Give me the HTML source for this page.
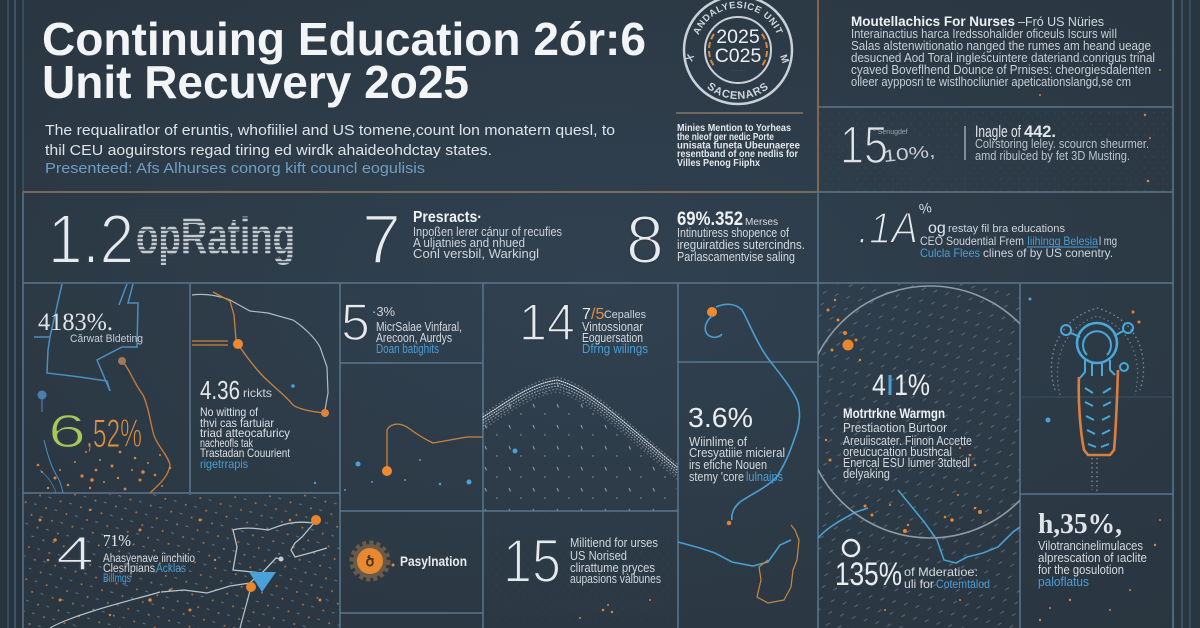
<!DOCTYPE html>
<html><head><meta charset="utf-8"><style>
html,body{margin:0;padding:0;background:#2d3b48;overflow:hidden;width:1200px;height:628px}
svg{display:block}
text{font-family:"Liberation Sans",sans-serif}
.sf{font-family:"Liberation Serif",serif}
</style></head><body>
<svg xmlns="http://www.w3.org/2000/svg" width="1200" height="628" viewBox="0 0 1200 628">
<defs>
<radialGradient id="bg" cx="50%" cy="45%" r="75%">
<stop offset="0" stop-color="#314150"/><stop offset="1" stop-color="#29353f"/>
</radialGradient>
<pattern id="pBL" width="16" height="14" patternUnits="userSpaceOnUse" patternTransform="rotate(-25)">
<circle cx="3" cy="4" r="1" fill="#b9753a"/><line x1="10" y1="9" x2="12" y2="11" stroke="#6b7b88" stroke-width="1"/>
</pattern>
<pattern id="pDiag" width="12" height="12" patternUnits="userSpaceOnUse" patternTransform="rotate(12)">
<line x1="2" y1="8" x2="5" y2="5" stroke="#5f7181" stroke-width="1"/>
</pattern>
<pattern id="pSparse" width="24" height="21" patternUnits="userSpaceOnUse">
<line x1="5" y1="5" x2="6.5" y2="8.5" stroke="#8d9eab" stroke-width="1"/>
<circle cx="17" cy="15" r=".7" fill="#8d9eab"/>
</pattern>
<pattern id="pNoise" width="9" height="11" patternUnits="userSpaceOnUse">
<circle cx="2" cy="3" r=".6" fill="#3f4f5d"/><circle cx="6" cy="8" r=".5" fill="#3c4b58"/>
</pattern>
<clipPath id="cBL"><rect x="24" y="494" width="316" height="134"/></clipPath>
<clipPath id="cCirc"><rect x="818" y="284" width="202" height="344"/></clipPath>
<clipPath id="cHill"><path d="M483,421 C510,404 530,388 557,384 C590,392 630,432 677,471 L677,511 L483,511 Z"/></clipPath>
<path id="arcTop" d="M696,50 A42,42 0 0 1 780,50"/>
<path id="arcBot" d="M689,50 A49,49 0 0 0 787,50"/>
</defs>

<rect width="1200" height="628" fill="url(#bg)"/>
<rect x="0" y="0" width="23" height="628" fill="#27333e"/>
<rect x="1173" y="0" width="27" height="628" fill="#29353f"/>

<!-- textures -->
<rect x="819" y="108" width="353" height="84" fill="url(#pNoise)"/>
<rect x="24" y="494" width="316" height="134" fill="url(#pBL)" opacity=".9"/>
<g clip-path="url(#cCirc)"><rect x="818" y="284" width="202" height="344" fill="url(#pDiag)" opacity=".85"/></g>
<g clip-path="url(#cHill)"><rect x="483" y="380" width="195" height="132" fill="url(#pSparse)"/></g>
<rect x="483" y="512" width="195" height="116" fill="url(#pNoise)" opacity=".6"/>

<!-- grid lines -->
<g stroke="#58768e" stroke-width="1.5" fill="none">
<line x1="8" y1="0" x2="8" y2="628" stroke="#3f5466"/>
<line x1="15" y1="0" x2="15" y2="628" stroke="#465d70"/>
<line x1="23" y1="0" x2="23" y2="192" stroke="#3f5466"/>
<line x1="23" y1="192" x2="23" y2="628"/>
<line x1="1173" y1="0" x2="1173" y2="628"/>
<line x1="1182" y1="0" x2="1182" y2="628" stroke="#465d70"/>
<line x1="1190" y1="0" x2="1190" y2="628" stroke="#3f5466"/>
<line x1="818" y1="107" x2="1173" y2="107"/>
<line x1="818" y1="192" x2="1173" y2="192"/>
<line x1="23" y1="283" x2="1173" y2="283"/>
<line x1="190" y1="283" x2="190" y2="493"/>
<line x1="340" y1="283" x2="340" y2="628"/>
<line x1="483" y1="283" x2="483" y2="628"/>
<line x1="678" y1="283" x2="678" y2="628"/>
<line x1="818" y1="192" x2="818" y2="628"/>
<line x1="1020" y1="283" x2="1020" y2="628"/>
<line x1="340" y1="363" x2="483" y2="363"/>
<line x1="678" y1="362" x2="818" y2="362"/>
<line x1="23" y1="493" x2="340" y2="493"/>
<line x1="340" y1="511" x2="678" y2="511"/>
<line x1="340" y1="613" x2="483" y2="613"/>
<line x1="1020" y1="494" x2="1173" y2="494"/>
<line x1="1020" y1="397" x2="1173" y2="397" stroke="#3c5062" stroke-width="1"/>
</g>
<line x1="23" y1="192" x2="818" y2="192" stroke="#7a6a5b" stroke-width="2"/>
<line x1="818" y1="0" x2="818" y2="192" stroke="#8b6d50" stroke-width="1.8"/>
<line x1="676" y1="113" x2="803" y2="113" stroke="#8a7562" stroke-width="1.5"/>

<!-- TITLE -->
<text x="42" y="55" font-size="46" font-weight="bold" fill="#f2f4f5" textLength="604" lengthAdjust="spacingAndGlyphs">Continuing Education 2ór:6</text>
<text x="42" y="98" font-size="46" font-weight="bold" fill="#f2f4f5" textLength="427" lengthAdjust="spacingAndGlyphs">Unit Recuvery 2o25</text>
<text x="45" y="135" font-size="14.5" fill="#dde3e8" textLength="570" lengthAdjust="spacingAndGlyphs">The requaliratlor of eruntis, whofiiliel and US tomene,count lon monatern quesl, to</text>
<text x="45" y="155" font-size="14.5" fill="#dde3e8" textLength="447" lengthAdjust="spacingAndGlyphs">thil CEU aoguirstors regad tiring ed wirdk ahaideohdctay states.</text>
<text x="45" y="173" font-size="14.5" fill="#6f9ec2" textLength="380" lengthAdjust="spacingAndGlyphs">Presenteed:  Afs Alhurses conorg kift councl eogulisis</text>

<!-- BADGE -->
<circle cx="738" cy="50" r="54" fill="none" stroke="#c9d1d8" stroke-width="2.5"/>
<circle cx="738" cy="50" r="33" fill="none" stroke="#c9d1d8" stroke-width="2"/>
<path d="M714,34 A28,28 0 0 0 714,66" fill="none" stroke="#d9893a" stroke-width="2" stroke-dasharray="6 3"/>
<path d="M762,34 A28,28 0 0 1 762,66" fill="none" stroke="#d9893a" stroke-width="2" stroke-dasharray="6 3"/>
<text font-size="9.5" font-weight="bold" fill="#cfd6dc" letter-spacing=".6"><textPath href="#arcTop" startOffset="50%" text-anchor="middle">ANDALYESICE UNIT</textPath></text>
<text font-size="11" font-weight="bold" fill="#cfd6dc" letter-spacing=".8"><textPath href="#arcBot" startOffset="50%" text-anchor="middle">SACENARS</textPath></text>
<text x="692" y="62" font-size="10" font-weight="bold" fill="#cfd6dc" transform="rotate(-70 692 62)">X</text>
<text x="780" y="56" font-size="10" font-weight="bold" fill="#cfd6dc" transform="rotate(70 780 56)">M</text>
<text x="738" y="43" font-size="19.5" fill="#eceff1" text-anchor="middle">2025</text>
<text x="738" y="62" font-size="19.5" fill="#eceff1" text-anchor="middle">C025</text>
<text x="738" y="72" font-size="4" fill="#9aa6b0" text-anchor="middle">· · · · · ·</text>
<g font-size="10" font-weight="bold" fill="#e4e8eb">
<text x="677" y="131" textLength="114" lengthAdjust="spacingAndGlyphs">Minies Mention to Yorheas</text>
<text x="677" y="140" textLength="97" lengthAdjust="spacingAndGlyphs">the nleof ger nedic Porte</text>
<text x="677" y="148.5" textLength="123" lengthAdjust="spacingAndGlyphs">unisata funeta Ubeunaeree</text>
<text x="677" y="157" textLength="121" lengthAdjust="spacingAndGlyphs">resentband of one nedlis for</text>
<text x="677" y="166" textLength="83" lengthAdjust="spacingAndGlyphs">Villes Penog Fiiphx</text>
</g>

<!-- HEADER RIGHT -->
<text x="851" y="26" font-size="13.5" font-weight="bold" fill="#eef1f3" textLength="164" lengthAdjust="spacingAndGlyphs">Moutellachics For Nurses</text>
<text x="1018" y="26" font-size="13" fill="#d3dae0" textLength="86" lengthAdjust="spacingAndGlyphs">–Fró US Nüries</text>
<g font-size="12.5" fill="#c7cfd6">
<text x="851" y="38" textLength="266" lengthAdjust="spacingAndGlyphs">Interainactius harca Iredssohalider oficeuls Iscurs wiIl</text>
<text x="851" y="50" textLength="300" lengthAdjust="spacingAndGlyphs">Salas alstenwitionatio nanged the rumes am heand ueage</text>
<text x="851" y="62" textLength="304" lengthAdjust="spacingAndGlyphs">desucned Aod Toral ingleścuintere dateriand.conrigus trinal</text>
<text x="851" y="74" textLength="300" lengthAdjust="spacingAndGlyphs">cyaved Boveflhend Dounce of Prnises: cheorgiesdalenten</text>
<text x="851" y="86" textLength="280" lengthAdjust="spacingAndGlyphs">olleer aypposri te wistlhocliunier apeticationslangd,se cm</text>
</g>
<text x="840" y="163" font-size="53" fill="#dde2e6" stroke="#2e3c49" stroke-width="1.6" textLength="48" lengthAdjust="spacingAndGlyphs">15</text>
<text x="873" y="134" font-size="7" fill="#9aa6b0">° Senugdef</text>
<text x="884" y="162" font-size="17" fill="#c9d0d6" transform="rotate(-6 884 162)" textLength="52" lengthAdjust="spacingAndGlyphs">10%,</text>
<line x1="965" y1="126" x2="965" y2="160" stroke="#9aa5ae" stroke-width="1.5"/>
<text x="975" y="137" font-size="17" fill="#e3e7ea" textLength="46" lengthAdjust="spacingAndGlyphs">Inagle of</text>
<text x="1024" y="137" font-size="17" font-weight="bold" fill="#e3e7ea" textLength="32" lengthAdjust="spacingAndGlyphs">442.</text>
<text x="975" y="148" font-size="13" fill="#b9c3cb" textLength="174" lengthAdjust="spacingAndGlyphs">Colrstoring leley. scourcn sheurmer.</text>
<text x="975" y="160" font-size="13" fill="#b9c3cb" textLength="155" lengthAdjust="spacingAndGlyphs">amd ribulced by fet 3D Musting.</text>

<!-- ROW 2 -->
<text x="48" y="263" font-size="70" fill="#e6eaed" stroke="#2e3c49" stroke-width="2" textLength="86" lengthAdjust="spacingAndGlyphs">1.2</text>
<text x="136" y="254" font-size="52" font-weight="bold" fill="#dfe4e8" textLength="159" lengthAdjust="spacingAndGlyphs" opacity=".85">opRating</text>
<g stroke="#2e3c49" stroke-width="1.6">
<line x1="134" y1="210" x2="298" y2="210"/><line x1="134" y1="214" x2="298" y2="214"/><line x1="134" y1="218" x2="298" y2="218"/><line x1="134" y1="222" x2="298" y2="222"/><line x1="134" y1="226" x2="298" y2="226"/><line x1="134" y1="230" x2="298" y2="230"/><line x1="134" y1="234" x2="298" y2="234"/><line x1="134" y1="238" x2="298" y2="238"/><line x1="134" y1="242" x2="298" y2="242"/><line x1="134" y1="246" x2="298" y2="246"/><line x1="134" y1="250" x2="298" y2="250"/><line x1="134" y1="254" x2="298" y2="254"/><line x1="134" y1="258" x2="298" y2="258"/><line x1="134" y1="262" x2="298" y2="262"/>
</g>
<text x="362" y="263" font-size="70" fill="#e6eaed" stroke="#2e3c49" stroke-width="2">7</text>
<text x="413" y="222" font-size="16" font-weight="bold" fill="#eef1f3" textLength="69" lengthAdjust="spacingAndGlyphs">Presracts·</text>
<g font-size="12.5" fill="#cdd4da">
<text x="413" y="236" textLength="149" lengthAdjust="spacingAndGlyphs">Inpoßen lerer cánur of recufies</text>
<text x="413" y="247" textLength="112" lengthAdjust="spacingAndGlyphs">A uljatnies and nhued</text>
<text x="413" y="258" textLength="126" lengthAdjust="spacingAndGlyphs">Conl versbil, Warkingl</text>
</g>
<text x="626" y="263" font-size="68" fill="#e6eaed" stroke="#2e3c49" stroke-width="2">8</text>
<text x="677" y="225" font-size="19" font-weight="bold" fill="#eef1f3" textLength="66" lengthAdjust="spacingAndGlyphs">69%.352</text>
<text x="745" y="225" font-size="10" fill="#d4dade" textLength="33" lengthAdjust="spacingAndGlyphs">Merses</text>
<g font-size="13" fill="#d4dade">
<text x="677" y="237" textLength="112" lengthAdjust="spacingAndGlyphs">Intinutiress shopence of</text>
<text x="677" y="249" textLength="128" lengthAdjust="spacingAndGlyphs">ireguiratdies sutercindns.</text>
<text x="677" y="261" textLength="118" lengthAdjust="spacingAndGlyphs">Parlascamentvise saling</text>
</g>
<text x="858" y="243" font-size="44" font-style="italic" fill="#e6eaed" stroke="#2e3c49" stroke-width="1.6" textLength="60" lengthAdjust="spacingAndGlyphs">.1A</text>
<text x="920" y="214" font-size="14" fill="#d4dade" transform="rotate(-10 920 214)">%</text>
<text x="928" y="233" font-size="16" fill="#e3e7ea">og</text>
<text x="948" y="232" font-size="11" fill="#cdd4da" textLength="117" lengthAdjust="spacingAndGlyphs">restay fil bra educations</text>
<text x="920" y="245" font-size="12" fill="#cdd4da" textLength="104" lengthAdjust="spacingAndGlyphs">CEO Soudential Frem</text>
<text x="1027" y="245" font-size="12" fill="#4a9ed6" textLength="71" lengthAdjust="spacingAndGlyphs">Iiihingg Belesia</text>
<line x1="1027" y1="247" x2="1098" y2="247" stroke="#4a9ed6" stroke-width="1"/>
<text x="1099" y="245" font-size="12" fill="#cdd4da" textLength="18" lengthAdjust="spacingAndGlyphs">l mg</text>
<text x="920" y="257" font-size="12" fill="#4a9ed6" textLength="60" lengthAdjust="spacingAndGlyphs">Culcla Flees</text>
<text x="983" y="257" font-size="12" fill="#cdd4da" textLength="130" lengthAdjust="spacingAndGlyphs">clines of by US conentry.</text>

<!-- PANEL 1 -->
<g fill="none" stroke="#4a8fc0" stroke-width="1.5">
<path d="M62,284 L50,337 L34,337 M50,337 L48,350 L47,373 L80,377 L107,381 L110,391"/>
<path d="M133,284 L128,303 L138,303 L137,347 L122,347 L97,360 L110,391"/>
<path d="M127,284 L119,305"/>
<line x1="42" y1="398" x2="42" y2="412" stroke-width="1"/>
<path d="M44,440 C48,455 50,465 58,478 C62,485 62,490 63,493" stroke-width="1"/>
<path d="M40,470 C45,475 52,480 56,493" stroke-width="1" opacity=".7"/>
</g>
<circle cx="42" cy="395" r="4.5" fill="#4a7fb0"/>
<path d="M123,362 C130,370 135,385 143,395 C148,405 150,420 153,432 C156,445 168,455 170,465 C168,478 158,485 150,493" fill="none" stroke="#c07a3a" stroke-width="1.4"/>
<circle cx="122" cy="361" r="4" fill="#a0785a"/>
<text class="sf" x="38" y="330" font-size="25" fill="#e0e5e9" textLength="75" lengthAdjust="spacingAndGlyphs">4183%.</text>
<text x="70" y="342" font-size="11" fill="#c5cdd3" textLength="73" lengthAdjust="spacingAndGlyphs">Cărwat Bldeting</text>
<text x="48" y="447" font-size="46" fill="#a9c855" stroke="#2e3c49" stroke-width="1.2" textLength="38" lengthAdjust="spacingAndGlyphs">6</text>
<text x="86" y="447" font-size="40" fill="#e5903a" stroke="#2e3c49" stroke-width="1" textLength="56" lengthAdjust="spacingAndGlyphs">,52%</text>
<g fill="#d9843a">
<circle cx="38" cy="465" r="1.3"/><circle cx="42" cy="472" r="1"/><circle cx="55" cy="478" r="1.5"/><circle cx="60" cy="470" r="1"/><circle cx="68" cy="485" r="1.3"/><circle cx="75" cy="462" r="1"/><circle cx="82" cy="476" r="1.6"/><circle cx="90" cy="488" r="1.2"/><circle cx="96" cy="470" r="1.4"/><circle cx="104" cy="482" r="1"/><circle cx="112" cy="466" r="1.5"/><circle cx="118" cy="478" r="1.2"/><circle cx="125" cy="489" r="1.4"/><circle cx="132" cy="470" r="1"/><circle cx="140" cy="480" r="1.5"/><circle cx="148" cy="463" r="1"/><circle cx="155" cy="475" r="1.3"/><circle cx="162" cy="486" r="1"/><circle cx="170" cy="468" r="1.2"/><circle cx="48" cy="488" r="1.2"/><circle cx="100" cy="460" r="1"/><circle cx="135" cy="458" r="1.3"/><circle cx="86" cy="452" r="1"/><circle cx="120" cy="452" r="1.4"/><circle cx="160" cy="455" r="1"/><circle cx="143" cy="472" r="1.8"/><circle cx="92" cy="480" r="1.8"/>
</g>

<!-- PANEL 2 -->
<path d="M192,295 C205,293 220,296 230,300 L250,311 L268,313 L293,320 C305,328 315,338 320,347 L327,367 L328,393 L325,410" fill="none" stroke="#b0bac3" stroke-width="1.2"/>
<g fill="none" stroke="#c8843e" stroke-width="1.3">
<path d="M192,341 L228,341 M192,345 L228,345"/>
<path d="M213,292 L230,301 L234,315 L236,340"/>
<path d="M238,344 C245,355 258,372 267,380 C275,388 285,395 293,405 C300,410 315,412 325,413"/>
</g>
<circle cx="238" cy="344" r="5" fill="#f0882f"/>
<circle cx="325" cy="413" r="4" fill="#e0803a"/>
<circle cx="293" cy="386" r="1.8" fill="#4aa0d8"/>
<circle cx="315" cy="483" r="1.2" fill="#4aa0d8"/>
<text x="200" y="399" font-size="26" fill="#e3e8eb" textLength="40" lengthAdjust="spacingAndGlyphs">4.36</text>
<text x="243" y="397" font-size="12" fill="#cdd4da" textLength="29" lengthAdjust="spacingAndGlyphs">rickts</text>
<g font-size="12" fill="#dbe1e5">
<text x="200" y="416" textLength="58" lengthAdjust="spacingAndGlyphs">No witting of</text>
<text x="200" y="427" textLength="74" lengthAdjust="spacingAndGlyphs">thvi cas fartuiar</text>
<text x="200" y="437" textLength="90" lengthAdjust="spacingAndGlyphs">triad atteocafuricy</text>
<text x="200" y="447" textLength="53" lengthAdjust="spacingAndGlyphs">nacheofls tak</text>
<text x="200" y="457" textLength="90" lengthAdjust="spacingAndGlyphs">Trastadan Couurient</text>
<text x="200" y="468" fill="#4a9ed6" textLength="48" lengthAdjust="spacingAndGlyphs">rigetrrapis</text>
</g>

<!-- PANEL 3 -->
<text x="341" y="340" font-size="52" fill="#e6eaed" stroke="#2e3c49" stroke-width="1.6">5</text>
<text x="372" y="316" font-size="13" fill="#cdd4da">·3%</text>
<g font-size="12.5" fill="#d4dade">
<text x="376" y="331" textLength="86" lengthAdjust="spacingAndGlyphs">MicrSalae Vinfaral,</text>
<text x="376" y="342" textLength="76" lengthAdjust="spacingAndGlyphs">Arecoon, Aurdys</text>
<text x="376" y="353" fill="#4a9ed6" textLength="63" lengthAdjust="spacingAndGlyphs">Doan batighits</text>
</g>
<path d="M387,467 L387,430 C390,424 398,422 407,427 C414,432 420,437 433,443 L450,440 L467,437 L483,437" fill="none" stroke="#c8843e" stroke-width="1.3"/>
<circle cx="387" cy="471" r="5" fill="#f08a30"/>
<g fill="#4aa0d8"><circle cx="358" cy="464" r="2.5"/><circle cx="469" cy="482" r="2.5"/><circle cx="345" cy="490" r="1"/><circle cx="372" cy="482" r="1"/><circle cx="440" cy="484" r="1.3"/><circle cx="405" cy="480" r="1"/><circle cx="420" cy="460" r="1"/></g>

<!-- GEAR -->
<circle cx="370" cy="561" r="17" fill="#6b5a4a"/>
<circle cx="370" cy="561" r="18" fill="none" stroke="#6b5a4a" stroke-width="5" stroke-dasharray="4 3"/>
<circle cx="370" cy="561" r="13" fill="#e8892f"/>
<text x="370" y="566" font-size="14" font-weight="bold" fill="#4a3424" text-anchor="middle">ծ</text>
<circle cx="393" cy="565" r="1.5" fill="#e8892f"/>
<text x="400" y="566" font-size="14" font-weight="bold" fill="#e8ecef" textLength="67" lengthAdjust="spacingAndGlyphs">Pasylnation</text>

<!-- PANEL 14 -->
<text x="519" y="340" font-size="52" fill="#e6eaed" stroke="#2e3c49" stroke-width="1.6" textLength="56" lengthAdjust="spacingAndGlyphs">14</text>
<text x="582" y="319" font-size="16" fill="#e6eaed">7</text>
<text x="591" y="319" font-size="16" fill="#e5903a">/5</text>
<text x="604" y="318" font-size="11" fill="#cdd4da" textLength="42" lengthAdjust="spacingAndGlyphs">Cepalles</text>
<g font-size="12.5" fill="#d4dade">
<text x="582" y="331" textLength="61" lengthAdjust="spacingAndGlyphs">Vintossionar</text>
<text x="582" y="342" textLength="61" lengthAdjust="spacingAndGlyphs">Eoguersation</text>
<text x="582" y="353" fill="#4a9ed6" textLength="66" lengthAdjust="spacingAndGlyphs">Dfrng wilings</text>
</g>
<g fill="none" stroke="#d5dce2" stroke-linecap="round" stroke-width="1.2">
<path d="M483,417 C510,400 530,384 557,380 C590,388 630,428 677,467" stroke-dasharray=".8 1.5"/>
<path d="M483,420 C510,403 530,387 557,383 C590,391 630,431 677,470" stroke-dasharray=".8 1.8" opacity=".8"/>
<path d="M483,423 C510,406 530,390 557,386 C590,394 630,434 677,473" stroke-dasharray=".8 2.2" opacity=".6"/>
<path d="M483,426 C510,409 530,393 557,389 C590,397 630,437 677,476" stroke-dasharray=".8 2.8" opacity=".45"/>
<path d="M483,429 C510,412 530,396 557,392 C590,400 630,440 677,479" stroke-dasharray=".8 3.5" opacity=".3"/>
<path d="M483,414 C510,397 530,381 557,377 C590,385 630,425 677,464" stroke-dasharray=".8 3" opacity=".4"/>
</g>
<circle cx="515" cy="451" r="2.5" fill="#4aa0d8"/>

<!-- PANEL 15 -->
<text x="503" y="582" font-size="61" fill="#e6eaed" stroke="#2e3c49" stroke-width="2" textLength="58" lengthAdjust="spacingAndGlyphs">15</text>
<g font-size="13" fill="#cfd6dc">
<text x="570" y="547" textLength="88" lengthAdjust="spacingAndGlyphs">Militiend for urses</text>
<text x="570" y="560" textLength="57" lengthAdjust="spacingAndGlyphs">US Norised</text>
<text x="570" y="572" textLength="85" lengthAdjust="spacingAndGlyphs">clirattume pryces</text>
<text x="570" y="583" textLength="91" lengthAdjust="spacingAndGlyphs">aupasions vàlbunes</text>
</g>
<g fill="#d9843a"><circle cx="603" cy="610" r="1.3"/><circle cx="608" cy="605" r="1"/><circle cx="612" cy="612" r="1.2"/><circle cx="580" cy="618" r="1"/><circle cx="650" cy="600" r="1"/></g>

<!-- PANEL 678-818 -->
<circle cx="712" cy="312" r="5" fill="#f08a30"/>
<g fill="none" stroke="#4a9fd2" stroke-width="1.6">
<path d="M712,316 C705,322 703,330 708,335 C713,339 720,337 722,334"/>
<path d="M716,307 C725,303 735,303 742,310 C748,320 755,340 767,357 C775,368 790,385 797,400 C801,410 800,425 795,437 C790,452 786,462 778,475 C770,486 753,493 740,502 C733,508 731,515 732,520"/>
<path d="M678,542 L700,548 L715,553 L732,562 L753,566 L768,562 L780,545 L791,540"/>
<path d="M818,538 C825,530 835,523 856,512 L868,508"/>
<path d="M898,490 L925,523 L937,540 L944,560 L956,563 L967,557 L983,553 L998,547 L1013,532 L1020,527"/>
</g>
<circle cx="729" cy="523" r="2.3" fill="#e0803a"/>
<path d="M791,525 L795,530 L799,540 L797,560 L793,570 L791,587 L784,600 L768,603 L757,597 L761,580 L759,567 L768,560" fill="none" stroke="#c8893e" stroke-width="1.2"/>
<text x="688" y="427" font-size="28" fill="#e8ecef" textLength="65" lengthAdjust="spacingAndGlyphs">3.6%</text>
<g font-size="12.5" fill="#d4dade">
<text x="689" y="446" textLength="58" lengthAdjust="spacingAndGlyphs">Wiinlime of</text>
<text x="689" y="457" textLength="96" lengthAdjust="spacingAndGlyphs">Cresyatiiie micieral</text>
<text x="689" y="469" textLength="78" lengthAdjust="spacingAndGlyphs">irs efiche Nouen</text>
<text x="689" y="481" textLength="55" lengthAdjust="spacingAndGlyphs">stemy 'core</text>
<text x="746" y="481" fill="#4a9ed6" textLength="37" lengthAdjust="spacingAndGlyphs">lulnaips</text>
</g>

<!-- PANEL 818-1020 -->
<g clip-path="url(#cCirc)"><circle cx="930" cy="412" r="126" fill="none" stroke="#8e9aa5" stroke-width="1.6"/></g>
<g fill="#e8852f">
<circle cx="848" cy="345" r="5.5"/><circle cx="845" cy="333" r="2"/><circle cx="838" cy="320" r="1.5"/><circle cx="832" cy="350" r="1.5"/><circle cx="856" cy="340" r="1.5"/><circle cx="828" cy="310" r="1.5"/><circle cx="835" cy="300" r="1.2"/><circle cx="860" cy="360" r="1.2"/><circle cx="830" cy="460" r="1.5"/><circle cx="826" cy="440" r="1.2"/><circle cx="970" cy="455" r="1.3"/><circle cx="975" cy="465" r="1.3"/><circle cx="960" cy="448" r="1"/>
<circle cx="865" cy="506" r="1.5"/><circle cx="872" cy="515" r="1.5"/><circle cx="905" cy="531" r="2"/><circle cx="908" cy="525" r="1.2"/><circle cx="945" cy="517" r="1.3"/><circle cx="952" cy="520" r="1.8"/><circle cx="975" cy="508" r="1.2"/><circle cx="980" cy="512" r="2"/><circle cx="958" cy="495" r="1"/><circle cx="890" cy="505" r="1"/><circle cx="885" cy="610" r="1"/><circle cx="960" cy="600" r="1"/>
</g>
<text x="872" y="395" font-size="30" fill="#e8ecef" textLength="58" lengthAdjust="spacingAndGlyphs">4·1%</text>
<line x1="890" y1="375" x2="890" y2="395" stroke="#4a9fd2" stroke-width="3"/>
<text x="843" y="418" font-size="13.5" font-weight="bold" fill="#eef1f3" textLength="102" lengthAdjust="spacingAndGlyphs">Motrtrkne Warmgn</text>
<g font-size="13" fill="#d4dade">
<text x="843" y="432" textLength="104" lengthAdjust="spacingAndGlyphs">Prestiaotion Burtoor</text>
<text x="843" y="445" textLength="129" lengthAdjust="spacingAndGlyphs">Areuiiscater. Fiinon Accette</text>
<text x="843" y="456" textLength="109" lengthAdjust="spacingAndGlyphs">oreucucation busthcal</text>
<text x="843" y="467" textLength="127" lengthAdjust="spacingAndGlyphs">Enercal ESU lumer 3tdtedl</text>
<text x="843" y="478" textLength="47" lengthAdjust="spacingAndGlyphs">delyaking</text>
</g>
<circle cx="851" cy="548" r="8" fill="none" stroke="#e8ecef" stroke-width="2.5"/>
<text x="835" y="585" font-size="32" fill="#e8ecef" textLength="67" lengthAdjust="spacingAndGlyphs">135%</text>
<text x="904" y="576" font-size="12" fill="#d4dade" textLength="74" lengthAdjust="spacingAndGlyphs">of Mderatioe:</text>
<text x="904" y="588" font-size="12" fill="#d4dade" textLength="30" lengthAdjust="spacingAndGlyphs">uli for</text>
<text x="936" y="588" font-size="12" fill="#4a9ed6" textLength="54" lengthAdjust="spacingAndGlyphs">Cotemtalod</text>

<!-- LAMP -->
<g fill="none" stroke="#7d8e9c" stroke-width="1.3" stroke-dasharray="1.5 3">
<path d="M1055,390 C1045,360 1055,320 1097,308 C1140,320 1150,360 1140,390"/>
<path d="M1060,395 C1052,362 1062,328 1097,316 C1133,328 1143,362 1135,395" opacity=".7"/>
<line x1="1097" y1="458" x2="1097" y2="493"/>
<line x1="1092" y1="458" x2="1092" y2="490"/>
</g>
<path d="M1079,377 C1078,400 1080,430 1084,450 L1088,455 L1110,455 L1114,450 C1116,430 1117,400 1118,370" fill="none" stroke="#d9803e" stroke-width="2.6"/>
<g fill="none" stroke="#4aa8d8" stroke-width="2.6">
<circle cx="1097" cy="343" r="20"/>
<path d="M1087,355 A14,14 0 1 1 1107,355" stroke-width="2"/>
<circle cx="1066" cy="330" r="5" stroke-width="2"/>
<circle cx="1128" cy="328" r="5" stroke-width="2"/>
<circle cx="1124" cy="367" r="4" stroke-width="2"/>
<path d="M1071,333 L1080,337 M1123,331 L1114,336" stroke-width="2"/>
<path d="M1085,360 L1085,372 L1080,378 M1092,362 L1092,376 M1102,362 L1102,376 M1110,360 L1110,370 L1115,375" stroke-width="2"/>
<path d="M1085,388 L1093,393 M1085,402 L1093,406 M1086,416 L1094,420 M1087,430 L1095,434 M1088,444 L1096,447 M1111,388 L1103,393 M1111,402 L1103,406 M1110,416 L1102,420 M1110,430 L1102,434 M1109,444 L1101,447" stroke-width="2"/>
</g>
<circle cx="1030" cy="299" r="1.5" fill="#4aa0d8"/>
<circle cx="1048" cy="420" r="2.5" fill="#4aa0d8"/>
<circle cx="1133" cy="312" r="1.5" fill="#e8852f"/><circle cx="1139" cy="322" r="1.5" fill="#e8852f"/>

<!-- PANEL BOTTOM RIGHT -->
<text class="sf" x="1038" y="533" font-size="28" font-weight="bold" fill="#dfe4e8" textLength="84" lengthAdjust="spacingAndGlyphs">h,35%,</text>
<g font-size="12.5" fill="#d4dade">
<text x="1038" y="550" textLength="105" lengthAdjust="spacingAndGlyphs">Vilotrancinelimulaces</text>
<text x="1038" y="562" textLength="109" lengthAdjust="spacingAndGlyphs">alprescation of ıaclite</text>
<text x="1038" y="574" textLength="86" lengthAdjust="spacingAndGlyphs">for the gosulotion</text>
<text x="1038" y="586" fill="#4a9ed6" textLength="51" lengthAdjust="spacingAndGlyphs">paloflatus</text>
</g>
<g fill="#d9843a"><circle cx="1050" cy="608" r="1"/><circle cx="1070" cy="600" r="1.2"/><circle cx="1130" cy="590" r="1"/><circle cx="1155" cy="545" r="1.2"/><circle cx="1160" cy="520" r="1"/><circle cx="1110" cy="610" r="1"/><circle cx="1040" cy="620" r="1.2"/><circle cx="1145" cy="115" r="1.2"/><circle cx="1150" cy="138" r="1"/><circle cx="1148" cy="181" r="1.3"/><circle cx="1160" cy="70" r="1"/><circle cx="1040" cy="95" r="1"/></g>

<!-- BOTTOM LEFT -->
<g clip-path="url(#cBL)">
<g fill="#d9843a"><circle cx="40" cy="520" r="1.5"/><circle cx="55" cy="540" r="1.8"/><circle cx="48" cy="560" r="1.3"/><circle cx="60" cy="600" r="1.5"/><circle cx="90" cy="510" r="1.2"/><circle cx="140" cy="530" r="1.5"/><circle cx="150" cy="600" r="1.8"/><circle cx="170" cy="590" r="1.3"/><circle cx="200" cy="520" r="1.5"/><circle cx="215" cy="560" r="1.2"/><circle cx="290" cy="520" r="1.3"/><circle cx="320" cy="600" r="1.5"/><circle cx="110" cy="615" r="1.2"/><circle cx="190" cy="610" r="1.5"/></g>
<path d="M161,592 L184,590 L207,593 L230,586 L250,583 C255,578 258,575 262,573 L233,570 L237,547 L233,530 C240,528 250,527 268,530 C280,526 290,520 314,523" fill="none" stroke="#b8c2ca" stroke-width="1.3"/>
<path d="M314,523 L302,537 L295,543 L291,550 L295,557 L310,553 L327,548 M262,573 L276,558 L281,559" fill="none" stroke="#b8c2ca" stroke-width="1.3"/>
<path d="M160,592 C140,598 110,605 90,612 C70,618 55,625 50,628" fill="none" stroke="#b8c2ca" stroke-width="1.2"/>
<path d="M251,587 L240,628" fill="none" stroke="#b8c2ca" stroke-width="1.2"/>
<path d="M249,572 L276,572 L262,592 Z" fill="#4aa0d8"/>
<circle cx="281" cy="559" r="2.5" fill="#c4ccd3"/>
<circle cx="316" cy="520" r="5" fill="#e8852f"/>
<circle cx="251" cy="587" r="5" fill="#e8852f"/>
</g>
<text x="56" y="570" font-size="48" fill="#e6eaed" stroke="#2e3c49" stroke-width="1.6" textLength="38" lengthAdjust="spacingAndGlyphs">4</text>
<text class="sf" x="103" y="546" font-size="17" fill="#e3e8eb" textLength="28" lengthAdjust="spacingAndGlyphs">71%</text>
<text x="103" y="562" font-size="11.5" fill="#d4dade" textLength="92" lengthAdjust="spacingAndGlyphs">Ahasyenave iinchitio</text>
<text x="103" y="572" font-size="11.5" fill="#d4dade" textLength="52" lengthAdjust="spacingAndGlyphs">Clesrlpians</text>
<text x="156" y="572" font-size="11.5" fill="#4a9ed6" textLength="30" lengthAdjust="spacingAndGlyphs">Acklas</text>
<text x="103" y="582" font-size="11.5" fill="#4a9ed6" textLength="28" lengthAdjust="spacingAndGlyphs">Billmgs</text>
</svg>
</body></html>
